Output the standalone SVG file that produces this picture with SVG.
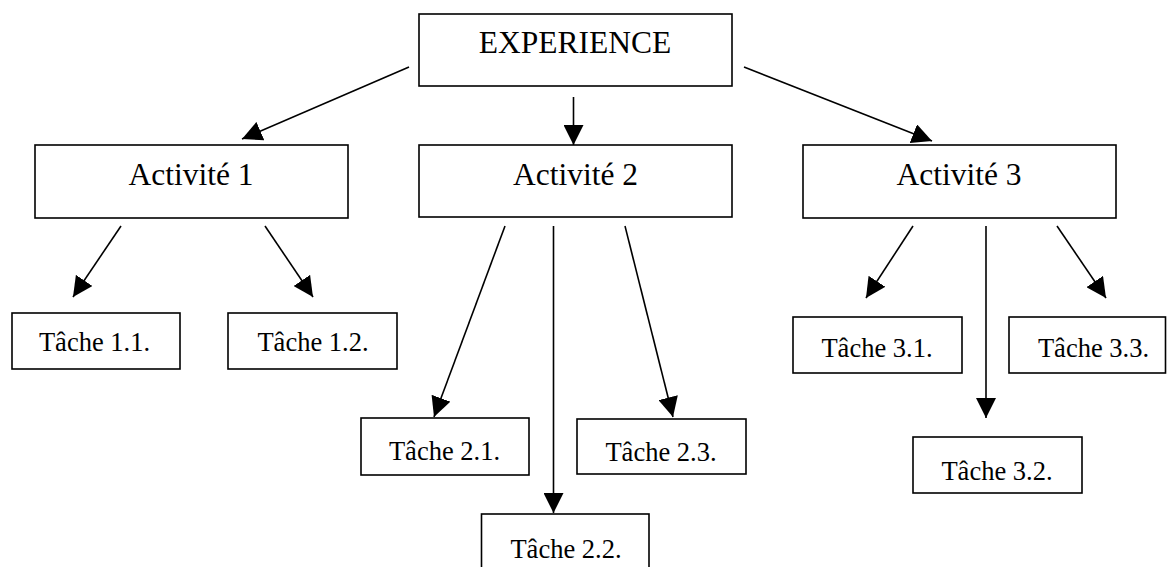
<svg xmlns="http://www.w3.org/2000/svg" width="1167" height="567" viewBox="0 0 1167 567">
<style>
.box{fill:#fff;stroke:#000;stroke-width:1.6}
.big{font-family:"Liberation Serif","Times New Roman",serif;font-size:31.5px;text-anchor:middle;fill:#000}
.small{font-family:"Liberation Serif","Times New Roman",serif;font-size:26.5px;text-anchor:middle;fill:#000}
.conn line{stroke:#000;stroke-width:1.6;marker-end:url(#arrow)}
</style>
<defs>
<marker id="arrow" markerUnits="userSpaceOnUse" markerWidth="20" markerHeight="20" viewBox="0 0 20 20" refX="20" refY="10" orient="auto">
<path d="M0,0 L20,10 L0,20 z" fill="#000"/>
</marker>
</defs>
<rect width="1167" height="567" fill="#fff"/>
<g class="conn">
<line x1="409" y1="67" x2="242" y2="139"/>
<line x1="573.5" y1="97" x2="573.5" y2="145"/>
<line x1="744" y1="67" x2="932" y2="141"/>
<line x1="121" y1="226" x2="73" y2="297"/>
<line x1="265" y1="226" x2="313" y2="297"/>
<line x1="505" y1="226" x2="434" y2="417"/>
<line x1="553.5" y1="226" x2="553.5" y2="513"/>
<line x1="625" y1="226" x2="673" y2="417"/>
<line x1="913" y1="226" x2="866" y2="298"/>
<line x1="986" y1="226" x2="986" y2="418"/>
<line x1="1057" y1="226" x2="1106" y2="298"/>
</g>
<g id="experience"><rect class="box" x="419" y="14" width="313" height="72"/><text class="big" x="575" y="53">EXPERIENCE</text></g>
<g id="activite1"><rect class="box" x="35" y="145" width="313" height="73"/><text class="big" x="191" y="184.5">Activité 1</text></g>
<g id="activite2"><rect class="box" x="419" y="145" width="313" height="72"/><text class="big" x="575.5" y="184.5">Activité 2</text></g>
<g id="activite3"><rect class="box" x="803" y="145" width="313" height="73"/><text class="big" x="959" y="184.5">Activité 3</text></g>
<g id="tache11"><rect class="box" x="12" y="313" width="168" height="56"/><text class="small" x="94.5" y="351">Tâche 1.1.</text></g>
<g id="tache12"><rect class="box" x="228" y="313" width="169" height="56"/><text class="small" x="313" y="351">Tâche 1.2.</text></g>
<g id="tache21"><rect class="box" x="361" y="418" width="168" height="57"/><text class="small" x="444.5" y="460">Tâche 2.1.</text></g>
<g id="tache22"><rect class="box" x="481.5" y="514" width="167.5" height="60"/><text class="small" x="566" y="558">Tâche 2.2.</text></g>
<g id="tache23"><rect class="box" x="577" y="419" width="169" height="55"/><text class="small" x="661" y="460.5">Tâche 2.3.</text></g>
<g id="tache31"><rect class="box" x="793" y="317" width="169" height="56"/><text class="small" x="877" y="357">Tâche 3.1.</text></g>
<g id="tache32"><rect class="box" x="913" y="437" width="169" height="56"/><text class="small" x="997" y="479.5">Tâche 3.2.</text></g>
<g id="tache33"><rect class="box" x="1009" y="317" width="156.5" height="56"/><text class="small" x="1093.5" y="357">Tâche 3.3.</text></g>
</svg>
